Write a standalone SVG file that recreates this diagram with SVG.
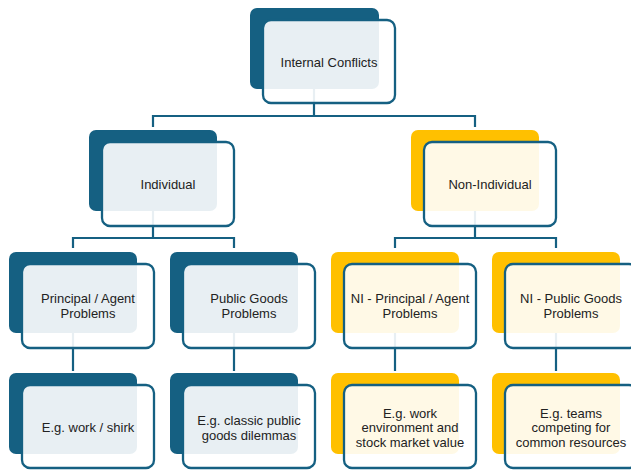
<svg xmlns="http://www.w3.org/2000/svg" width="631" height="470" viewBox="0 0 631 470">
<style>
.bg{fill:#fff}
.conn{fill:none;stroke:#156082;stroke-width:2.2}
.db{fill:#156082}
.dy{fill:#FFC000}
.fr{fill:#fff;fill-opacity:0.9;stroke:#156082;stroke-width:2.3}
.t{font-family:"Liberation Sans",Arial,sans-serif;font-size:13px;fill:#222;text-anchor:middle}
</style>
<rect class="bg" x="0" y="0" width="631" height="470"/>
<g id="connectors">
<path class="conn" d="M314,88 V116 M153,127 V116 H475 V127"/>
<path class="conn" d="M153,211 V238 M73,248 V238 H234 V248"/>
<path class="conn" d="M475,211 V238 M395,248 V238 H556 V248"/>
<path class="conn" d="M73,333 V371 M234,333 V371 M395,333 V371 M556,333 V371"/>
</g>
<g id="n-internal">
<rect class="db" x="250" y="8" width="129" height="81" rx="7"/>
<rect class="fr" x="263" y="20" width="132" height="83" rx="8"/>
<text class="t" x="329" y="66.5">Internal Conflicts</text>
</g>
<g id="n-individual">
<rect class="db" x="89" y="130" width="128" height="81" rx="7"/>
<rect class="fr" x="102" y="142" width="132" height="84" rx="8"/>
<text class="t" x="168" y="188.5">Individual</text>
</g>
<g id="n-nonindividual">
<rect class="dy" x="411" y="130" width="128" height="81" rx="7"/>
<rect class="fr" x="424" y="142" width="132" height="84" rx="8"/>
<text class="t" x="490" y="188.5">Non-Individual</text>
</g>
<g id="n-pa">
<rect class="db" x="9" y="252" width="128" height="81" rx="7"/>
<rect class="fr" x="22" y="264" width="132" height="84" rx="8"/>
<text class="t" x="88" y="302.5">Principal / Agent</text>
<text class="t" x="88" y="317.5">Problems</text>
</g>
<g id="n-pg">
<rect class="db" x="170" y="252" width="128" height="81" rx="7"/>
<rect class="fr" x="183" y="264" width="132" height="84" rx="8"/>
<text class="t" x="249" y="302.5">Public Goods</text>
<text class="t" x="249" y="317.5">Problems</text>
</g>
<g id="n-nipa">
<rect class="dy" x="331" y="252" width="128" height="81" rx="7"/>
<rect class="fr" x="344" y="264" width="132" height="84" rx="8"/>
<text class="t" x="410" y="302.5">NI - Principal / Agent</text>
<text class="t" x="410" y="317.5">Problems</text>
</g>
<g id="n-nipg">
<rect class="dy" x="492" y="252" width="128" height="81" rx="7"/>
<rect class="fr" x="505" y="264" width="132" height="84" rx="8"/>
<text class="t" x="571" y="302.5">NI - Public Goods</text>
<text class="t" x="571" y="317.5">Problems</text>
</g>
<g id="n-work">
<rect class="db" x="9" y="373" width="128" height="81" rx="7"/>
<rect class="fr" x="22" y="385" width="132" height="83" rx="8"/>
<text class="t" x="88" y="431.5">E.g. work / shirk</text>
</g>
<g id="n-classic">
<rect class="db" x="170" y="373" width="128" height="81" rx="7"/>
<rect class="fr" x="183" y="385" width="132" height="83" rx="8"/>
<text class="t" x="249" y="424.5">E.g. classic public</text>
<text class="t" x="249" y="439.5">goods dilemmas</text>
</g>
<g id="n-env">
<rect class="dy" x="331" y="373" width="128" height="81" rx="7"/>
<rect class="fr" x="344" y="385" width="132" height="83" rx="8"/>
<text class="t" x="410" y="417.5">E.g. work</text>
<text class="t" x="410" y="432">environment and</text>
<text class="t" x="410" y="446.5">stock market value</text>
</g>
<g id="n-teams">
<rect class="dy" x="492" y="373" width="128" height="81" rx="7"/>
<rect class="fr" x="505" y="385" width="132" height="83" rx="8"/>
<text class="t" x="571" y="417.5">E.g. teams</text>
<text class="t" x="571" y="432">competing for</text>
<text class="t" x="571" y="446.5">common resources</text>
</g>
</svg>
